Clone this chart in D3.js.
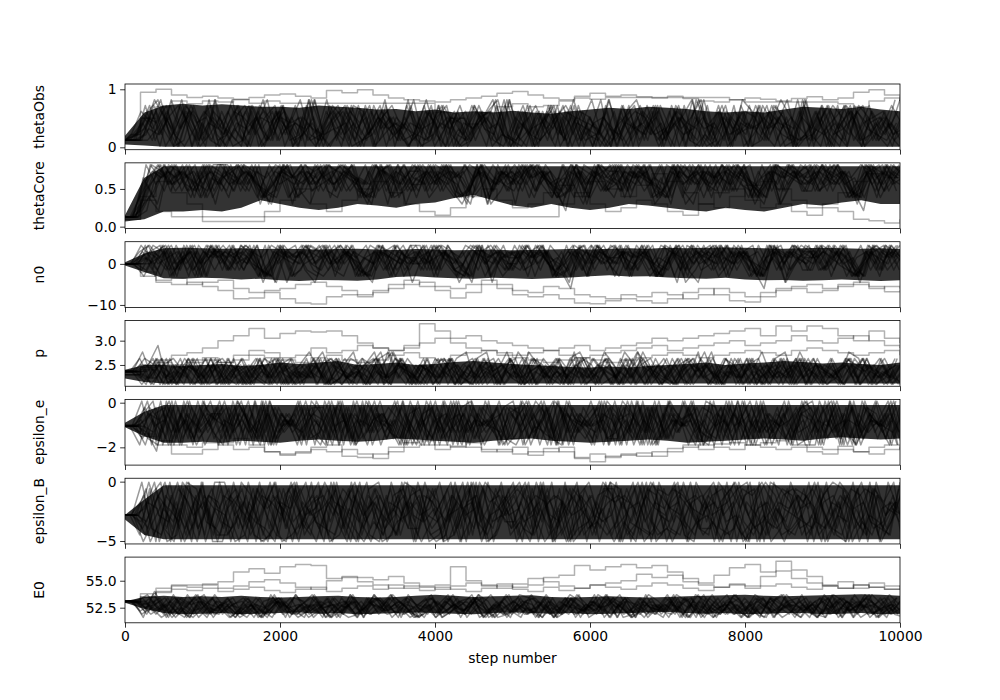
<!DOCTYPE html>
<html><head><meta charset="utf-8">
<script src="https://cdn.jsdelivr.net/npm/d3@7"></script>
<style>body{margin:0;background:#fff}svg{display:block}</style>
</head><body>
<svg id="chart" width="1000" height="700"></svg>
<script>
// ---------------- DATA ----------------
const paramNames = ["thetaObs","thetaCore","n0","p","epsilon_e","epsilon_B","E0"];
const stepTicks = [0,2000,4000,6000,8000,10000];
const stepTickLabels = ["0","2000","4000","6000","8000","10000"];

// y-axis ticks per parameter
const ticksThetaObs = [0,1],        labelsThetaObs = ["0","1"];
const ticksThetaCore = [0,0.5],     labelsThetaCore = ["0.0","0.5"];
const ticksN0 = [-10,0],            labelsN0 = ["\u221210","0"];
const ticksP = [2.5,3.0],           labelsP = ["2.5","3.0"];
const ticksEpsE = [-2,0],           labelsEpsE = ["\u22122","0"];
const ticksEpsB = [-5,0],           labelsEpsB = ["\u22125","0"];
const ticksE0 = [52.5,55.0],        labelsE0 = ["52.5","55.0"];

// y limits per parameter (axis view limits)
const limThetaObs = [-0.041,1.091];
const limThetaCore = [-0.025,0.846];
const limN0 = [-10.6,5.4];
const limP = [2.062,3.414];
const limEpsE = [-2.796,0.148];
const limEpsB = [-5.25,0.287];
const limE0 = [51.1,57.19];

// dense core of the walker ensemble (lower / upper edge), every 250 steps (0..10000)
const coreLowThetaObs  = [0.05,0.03,0.01,0.01,0.01,0.01,0.01,0.01,0.01,0.01,0.01,0.01,0.01,0.01,0.01,0.01,0.01,0.01,0.01,0.01,0.01,0.01,0.01,0.01,0.01,0.01,0.01,0.01,0.01,0.01,0.01,0.01,0.01,0.01,0.01,0.01,0.01,0.01,0.01,0.01,0.01];
const coreHighThetaObs = [0.2,0.6,0.72,0.75,0.72,0.74,0.72,0.7,0.7,0.68,0.72,0.7,0.68,0.65,0.66,0.62,0.65,0.6,0.62,0.6,0.63,0.6,0.58,0.62,0.65,0.68,0.66,0.7,0.68,0.66,0.62,0.6,0.62,0.6,0.65,0.7,0.68,0.66,0.7,0.65,0.62];
const coreLowThetaCore  = [0.07,0.1,0.2,0.2,0.22,0.2,0.25,0.35,0.3,0.25,0.22,0.25,0.3,0.28,0.25,0.3,0.32,0.38,0.42,0.35,0.28,0.25,0.3,0.25,0.22,0.25,0.3,0.28,0.25,0.22,0.2,0.25,0.22,0.2,0.25,0.3,0.28,0.32,0.35,0.3,0.3];
const coreHighThetaCore = [0.15,0.65,0.8,0.8,0.8,0.8,0.8,0.8,0.8,0.8,0.8,0.8,0.8,0.8,0.8,0.8,0.8,0.8,0.8,0.8,0.8,0.8,0.8,0.8,0.8,0.8,0.8,0.8,0.8,0.8,0.8,0.8,0.8,0.8,0.8,0.8,0.8,0.8,0.8,0.8,0.8];
const coreLowN0  = [-0.4,-2,-3.5,-3.6,-3.4,-3.5,-3.8,-3.6,-4,-4.2,-3.9,-4,-4.1,-3.8,-3.2,-3,-3.3,-3.5,-3.6,-3.4,-3.5,-3.7,-3.5,-3.3,-3,-2.8,-3.1,-3,-3.3,-3.5,-3.6,-3.4,-3.8,-4,-3.9,-4.1,-4,-3.8,-4,-4.2,-4];
const coreHighN0 = [0.4,2.5,3.8,3.9,3.8,3.7,3.8,3.6,3.7,3.6,3.5,3.6,3.7,3.5,3.4,3.6,3.5,3.3,3.4,3.5,3.3,3.4,3.5,3.6,3.5,3.7,3.8,3.7,3.9,3.8,3.9,4,3.9,3.8,3.7,3.8,3.9,3.8,3.7,3.8,3.6];
const coreLowP  = [2.22,2.15,2.12,2.12,2.12,2.12,2.12,2.12,2.12,2.12,2.12,2.12,2.12,2.12,2.12,2.12,2.12,2.12,2.12,2.12,2.12,2.12,2.12,2.12,2.12,2.12,2.12,2.12,2.12,2.12,2.12,2.12,2.12,2.12,2.12,2.12,2.12,2.12,2.12,2.12,2.12];
const coreHighP = [2.4,2.5,2.5,2.48,2.5,2.52,2.48,2.5,2.55,2.52,2.55,2.58,2.5,2.52,2.55,2.5,2.52,2.56,2.58,2.55,2.52,2.5,2.48,2.46,2.45,2.47,2.45,2.48,2.5,2.52,2.55,2.5,2.53,2.55,2.58,2.56,2.53,2.55,2.52,2.5,2.55];
const coreLowEpsE  = [-1.1,-1.5,-1.8,-1.8,-1.75,-1.8,-1.7,-1.75,-1.8,-1.7,-1.65,-1.7,-1.75,-1.7,-1.6,-1.65,-1.7,-1.75,-1.8,-1.7,-1.65,-1.6,-1.7,-1.75,-1.8,-1.75,-1.7,-1.65,-1.7,-1.8,-1.75,-1.7,-1.65,-1.6,-1.65,-1.7,-1.6,-1.55,-1.6,-1.65,-1.6];
const coreHighEpsE = [-0.9,-0.4,-0.1,-0.1,-0.1,-0.1,-0.1,-0.1,-0.1,-0.1,-0.1,-0.1,-0.1,-0.1,-0.1,-0.1,-0.1,-0.1,-0.1,-0.1,-0.1,-0.1,-0.1,-0.1,-0.1,-0.1,-0.1,-0.1,-0.1,-0.1,-0.1,-0.1,-0.1,-0.1,-0.1,-0.1,-0.1,-0.1,-0.1,-0.1,-0.1];
const coreLowEpsB  = [-3.2,-4.5,-4.85,-4.85,-4.85,-4.85,-4.85,-4.85,-4.85,-4.85,-4.85,-4.85,-4.85,-4.85,-4.85,-4.85,-4.85,-4.85,-4.85,-4.85,-4.85,-4.85,-4.85,-4.85,-4.85,-4.85,-4.85,-4.85,-4.85,-4.85,-4.85,-4.85,-4.85,-4.85,-4.85,-4.85,-4.85,-4.85,-4.85,-4.85,-4.85];
const coreHighEpsB = [-2.8,-1.5,-0.3,-0.3,-0.3,-0.3,-0.3,-0.3,-0.3,-0.3,-0.3,-0.3,-0.3,-0.3,-0.3,-0.3,-0.3,-0.3,-0.3,-0.3,-0.3,-0.3,-0.3,-0.3,-0.3,-0.3,-0.3,-0.3,-0.3,-0.3,-0.3,-0.3,-0.3,-0.3,-0.3,-0.3,-0.3,-0.3,-0.3,-0.3,-0.3];
const coreLowE0  = [52.95,52.4,52.0,51.9,51.95,52.0,51.9,51.95,52.0,52.05,51.95,52.0,51.9,51.95,52.0,52.05,52.0,51.95,51.9,52.0,52.05,52.0,51.95,52.0,51.9,51.95,52.0,52.05,52.1,52.0,51.95,52.0,51.9,51.95,52.0,52.0,51.9,51.95,52.0,51.9,51.95];
const coreHighE0 = [53.1,53.5,53.6,53.5,53.55,53.5,53.6,53.5,53.45,53.5,53.55,53.6,53.5,53.45,53.5,53.6,53.7,53.6,53.5,53.55,53.6,53.65,53.5,53.45,53.5,53.55,53.5,53.45,53.5,53.55,53.6,53.65,53.7,53.6,53.55,53.6,53.65,53.7,53.75,53.7,53.6];

// walker traces, quantised to 10 levels (digit d -> lo + d*(hi-lo)/9),
// one sample per ~127 steps
const levelsThetaObs = [0.02,0.92];
const walkersThetaObs = [
"1137250614 3620481527 0634172805 2716043582 1604725138 0527316048 2715063481 2603751428",
"1225073618 0472615304 2816350724 1503627410 3726150482 0614273510 4623071528 1372064153",
"1264817302 5147036251 3027416053 2640517328 0415372604 1736240517 3052716430 2517063214",
"1116283741 0362751408 1573024617 3820461537 2604718305 3142607358 1604372516 0473615203",
"1241638057 2730546128 0461725340 2157036481 5302617045 2706413582 0517346021 3604275136",
"1153726041 6207315482 1740625318 0635214072 1473065241 6034725180 3726014853 1520637142",
"1127304615 3816027451 2036471520 4172603518 2063574120 3571604235 1408627351 2063714520",
"1238501726 4017362518 3625047130 5270314682 0726315407 1465230718 2536074215 3704612538",
"1171520364 2653817024 1407263514 3615027340 6251704326 0432716053 4170253608 2731506241",
"1126037518 0314627053 2750136427 0143725618 3507261430 2683517402 0264317506 1475206374",
"1254716308 2573046125 0463125736 2705416308 1362507214 0527136084 3716520437 0623571405",
"1113627450 3162570438 2317605241 3472015630 2713640528 3051726430 1642735018 3207145623",
"1268305172 0435162708 1624073512 0635274160 4217036528 1704625317 0523617402 6241703526",
"1132574061 2705163420 3571602438 1274536021 0346271503 2614037251 6024371508 1357402613"
];
const levelsThetaCore = [0.04,0.82];
const walkersThetaCore = [
"1147968579 6897485968 7958694879 5869784697 8596479685 7948695879 6859748697 5987468597",
"1139786958 7496857948 6985749687 9586497858 6978495869 7586948795 8697485968 7859649786",
"1126958749 8675938467 9548769583 7698548976 5897639487 6958473986 9487658397 8569738495",
"1159867485 9768596748 5987637958 4869795867 9748596378 9587694869 5768947598 6879458697",
"1168795847 6958379486 8697548395 7869458769 3958674985 7698459678 4986579368 9576849587",
"1174869578 5897468953 7968485796 9587639478 6859748596 4879658497 6958478369 8597468958",
"1135978694 7869538796 9485768947 5976849385 8697529687 9485769538 7968495876 9687549879",
"1148597869 9587468795 6798549768 8469758396 7958469875 6879359684 8597648795 5968798476",
"1157968495 8697549386 7859468957 9678458769 5896479385 9768547968 7859469587 6978549698",
"1196857948 7598469785 8679539486 6958798475 9786458697 8597648359 6879538796 7958496879",
"1128796583 9687459768 5897698475 7869539687 8496758497 6978498586 9587369785 8697458967",
"1163879596 8759487698 9687548769 8597469358 7968587495 9587469786 5897649587 9768529687",
"1179685847 5968798459 7689458697 9785369587 6978458698 8697549768 7958469879 5896748597",
"1142987659 9786548796 8597698457 6958749586 9786598479 5879648695 8697549876 7968498579"
];
const levelsN0 = [-9,4.5];
const walkersN0 = [
"6689758497 8576948379 6859478695 7948569874 6978584796 9857468957 8469785947 6857948698",
"6678946857 9587469785 4968795847 8697548769 5879468597 6958749586 7948596879 5968478596",
"6697485968 7958496879 5869748597 9678548697 8569479586 7849698578 9587469857 8796548979",
"6658796849 6879548769 8597469857 7958698475 9687548968 5879648795 6978549687 9568749857",
"6685947869 7598469587 9678548796 8596479685 7948569879 6857948697 5968749586 8697548769",
"6669857948 8697549768 7958469587 6849758697 8597468958 9768547968 7859468957 5976849587",
"6647968579 5968798459 8697549876 7859649786 6978458698 4879658497 9687549879 8569738495",
"6676849587 9786548796 5897698475 8697485968 7968495876 9587694869 5768947598 7948695879",
"6694857968 6958379486 7869458769 9587369785 8496758497 6978498586 8597648795 5987468597",
"6658967485 8759487698 9687548769 5897649587 7968587495 8597469358 9768529687 6879458697",
"6687596849 7598469785 4679539486 6958798475 9786458697 7859469587 6978549698 8596749587",
"6675849697 8675938467 9548769583 7698548976 5897639487 6958473986 9487658397 7859649786",
"6696785849 5897468953 7968485796 9587639478 6859748596 4879658497 6958478369 8597468958",
"6667958498 7869538796 9485768947 5976849385 8697529687 9485769538 7968495876 9687549879"
];
const levelsP = [2.1,3.3];
const walkersP = [
"2241302413 2031420314 0241302143 1034210423 1402314023 0413201342 0314023140 2301432014",
"2213041320 1402314021 3041203142 0314021340 2143021430 1203410231 4021340213 0412304123",
"2230214031 4023104213 0421034120 3142031402 3014203142 0314023104 2130412031 4102314023",
"2202413204 1320413021 4031204132 0413024130 2041320413 2041302413 0214031204 1320413204",
"2251402314 0231402135 2041320514 2031450213 4021305142 0315204132 5041320415 2031540213",
"2224031402 3140213402 1430214032 1402314502 1403124015 3024130241 3021403124 0312403120",
"2210342013 4203140231 4013204513 0240314025 1302413204 1530241302 4130251403 2140302413",
"2243120413 0241302413 2014302140 3214031402 3140213402 1403210341 2031402314 0213402130",
"2232014203 1402314021 3402135041 3204130241 5302413024 1320413025 1430214031 2041320413",
"2204132041 3120430213 5102431042 0314203124 0531204132 1402310423 1042031402 4130241302",
"2211403214 0231042304 1320413520 3142013204 2031402134 0253140231 0423104231 4023140213",
"2224103240 1302413024 0135031240 2314021304 1230421304 2150314023 1402314504 1320241302",
"2236021403 1024130231 4021340521 3024102314 0231045213 0241320413 0214023140 3210423014",
"2213204130 4201342013 0241350231 4021340231 0421304123 0413024150 2314031240 3214032410"
];
const levelsEpsE = [-2.45,0.07];
const walkersEpsE = [
"5528694735 8296473582 9637248593 7264938572 4968327594 8362759483 2759364827 9463825937",
"5547382946 2859374628 3748296537 4829573648 9274386529 3748259674 8392647582 3659428739",
"5563927485 9374628593 6285947362 8593746258 3746928537 6294837562 9485736294 5837264958",
"5592847369 4728395746 8394627385 2967483952 6839472856 4972836594 3826947583 7294658372",
"5536492857 7385294637 5928374692 6385927463 8254973682 7539248673 6847293568 2958374692",
"5579283647 3694827593 4827395864 9372846583 2597384629 5826473958 7293846527 6482937584",
"5554738296 8463927584 2693847526 3847295638 6948275364 9372846592 4739582637 8263947528",
"5585629374 2947385629 7382659437 8263947582 4738296547 2864937582 9375264839 4793826574",
"5527846393 6582937468 3947582639 5728463927 8362947583 4637285946 2856394728 9372846593",
"5568394725 9473826547 6293847528 4936728593 3958274639 7294836527 5629483746 3847295628",
"5541937586 5839274638 8473926584 2849375628 7384926573 3958274639 8473625938 6295837462",
"5593746258 3729485736 4829367492 6374892547 5827394682 8492736584 3948275369 7482936547",
"5532859476 8274936582 9562847393 7835294673 9263847592 6738294853 7582946372 2947386594",
"5576283947 4963827594 2837594628 5392748637 4692837568 2584937264 6394827583 8356294738"
];
const levelsEpsB = [-5.05,-0.05];
const walkersEpsB = [
"4418053927 6140857293 0581736249 8350169427 5083914726 9061843752 1972056384 7391052846",
"4460392817 5829306415 7293048516 3947152806 9218064573 4805972163 6039481527 0582731946",
"4437905182 9406371852 4830592716 0582937164 7349028615 1638075492 8214093657 5904381726",
"4492170583 1753928406 9162857034 6201845973 3815760249 7049316852 2685907413 9136280754",
"4425816093 8061493725 2648075319 1753609284 6940257138 8592140367 4507319862 3726048195",
"4403629758 3297016584 6015389472 9438267015 2576091843 0316928754 7841360295 6259704318",
"4471538290 0582764931 8374910652 2860493157 0395186427 6750283941 3058796124 1847529063",
"4459207461 7625840139 1940627385 7014582936 8627403519 2483659107 9460235871 4065873219",
"4416940375 2938175064 5729304816 4593716028 1748259063 9207548316 0593142786 8521694037",
"4480752619 9461028357 3058162947 8125039674 5906748231 3849021675 6127809543 2798031564",
"4438261705 4017593826 7486250193 0369281457 9461502378 5138704296 1795263048 0673918254",
"4465019832 6853207914 0927461538 5247093681 3052817946 7694125083 8340697215 9418562370",
"4427594061 1370692845 9652031784 3817560492 6294381705 0562879134 2906415387 5037248691",
"4494386250 5728410693 2169483570 7605918342 4183607529 8321956047 5689032471 3250687149"
];
const levelsE0 = [51.6,54.3];
const walkersE0 = [
"5536241503 2614305213 4025136241 3051426031 2540316243 0521436205 1342063152 4031526413",
"5524613052 1436025314 2603514236 0415326041 5320614253 1406325041 6352041356 2041536024",
"5541352064 3025146302 5143062514 3602415306 2415036241 5302614305 2146035241 3062514306",
"5513026451 4302615340 2614053126 4305216403 5126043152 6403521460 3152406315 2460351246",
"5562403152 4031256041 3520146253 0416352041 2563041253 6014325061 4230516243 0615243061",
"5507415236 2514073612 4035261407 3152604137 2504163270 4135206143 7250316420 5136247031",
"5545172036 1452036142 5307412635 0247136250 4127360425 1630427153 0264135720 4613250374",
"5528364150 4613205146 3027146352 0416327501 4236051427 3605142637 0512463027 1536402615",
"5534620571 2463051247 3062514730 2641537024 6153027416 3507241630 5274160352 4170635241",
"5551403627 3140562134 0625143706 2413560247 1305264137 0542163075 2416305724 1630527413",
"5516053742 5034172650 3417265031 4726053142 7605314275 0631427506 3142750613 4275061342",
"5573260415 2064315207 3416052741 3602514730 6241537026 4150372614 0572631405 2736041526",
"5542617305 4126350742 1635074213 5602471352 0641375260 4137526031 4725106342 5061734250",
"5525064713 6204153726 0451372640 1537246051 3724160534 7261405372 6140532746 1053274610"
];

// isolated (grey-looking) walkers, values every 200 steps (0..10000)
const strayThetaObs = [
[0.12,0.95,1.0,0.9,0.86,0.88,0.85,0.83,0.86,0.9,0.92,0.88,0.85,0.98,0.94,0.99,0.9,0.85,0.82,0.8,0.78,0.82,0.85,0.88,0.93,0.96,0.9,0.85,0.82,0.88,0.93,0.88,0.9,0.87,0.85,0.88,0.84,0.8,0.78,0.82,0.85,0.83,0.8,0.84,0.87,0.82,0.85,0.95,0.99,0.9,0.8],
[0.12,0.5,0.7,0.8,0.75,0.8,0.78,0.82,0.76,0.8,0.76,0.76,0.76,0.76,0.76,0.76,0.76,0.76,0.76,0.76,0.6,0.5,0.4,0.6,0.7,0.75,0.7,0.72,0.8,0.85,0.83,0.86,0.86,0.86,0.86,0.86,0.86,0.86,0.86,0.82,0.78,0.78,0.78,0.78,0.78,0.78,0.75,0.7,0.8,0.85,0.8]
];
const strayThetaCore = [
[0.1,0.35,0.2,0.13,0.13,0.13,0.13,0.13,0.13,0.13,0.13,0.13,0.13,0.13,0.13,0.13,0.13,0.13,0.13,0.13,0.13,0.13,0.13,0.13,0.13,0.13,0.13,0.13,0.3,0.45,0.6,0.5,0.4,0.55,0.7,0.6,0.45,0.3,0.25,0.4,0.55,0.6,0.5,0.35,0.25,0.3,0.45,0.6,0.7,0.65,0.6],
[0.1,0.4,0.6,0.45,0.3,0.07,0.07,0.07,0.07,0.2,0.35,0.5,0.3,0.2,0.35,0.5,0.6,0.45,0.3,0.2,0.15,0.25,0.4,0.5,0.35,0.25,0.3,0.45,0.55,0.4,0.3,0.2,0.25,0.35,0.3,0.2,0.15,0.3,0.45,0.5,0.35,0.25,0.3,0.2,0.15,0.25,0.2,0.1,0.08,0.05,0.1]
];
const strayN0 = [
[0,-2,-4.5,-5,-4.5,-5.5,-6.5,-8.5,-8.3,-7,-8.5,-9.5,-9.8,-8,-7.5,-8,-7,-5,-4,-5.5,-6.5,-8.3,-7,-5,-6,-7.5,-8,-7.5,-8.5,-9.5,-9.7,-9,-8.5,-9,-9.5,-8.5,-7,-6,-7.5,-9,-9.3,-8,-6,-5.5,-5,-6,-5,-4.5,-5.5,-6.8,-6.5],
[0,-3,-4,-3.5,-5,-4.5,-4,-6,-7,-6.5,-6,-5,-4.5,-5.5,-6.5,-7.5,-6.5,-6,-5,-4.5,-5.5,-6,-5,-4,-5,-6.5,-7,-5.5,-6,-7.5,-8,-8.5,-7.5,-8,-7,-7.5,-8.5,-7.5,-6,-7,-8,-7,-6.5,-6,-7,-6.5,-5.5,-5,-6,-5.5,-6]
];
const strayP = [
[2.3,2.5,2.6,2.7,2.75,2.85,3.0,3.1,3.25,3.05,3.15,3.2,3.18,3.2,3.1,2.95,2.85,2.8,2.9,3.35,3.2,3.05,3.1,3.0,2.95,2.9,2.85,2.8,2.85,2.9,2.8,2.85,2.9,2.95,3.05,3.0,3.05,3.1,3.15,3.2,3.25,3.1,3.3,3.2,3.3,3.25,3.1,3.0,3.2,3.05,2.95],
[2.3,2.4,2.5,2.45,2.55,2.6,2.55,2.7,2.8,2.75,2.65,2.7,2.85,2.75,2.8,2.9,2.85,2.8,2.85,2.95,3.05,2.95,2.85,2.8,2.75,2.7,2.75,2.8,2.7,2.65,2.7,2.75,2.8,2.85,2.9,2.8,2.85,2.9,2.95,3.0,2.9,2.95,3.0,3.1,3.0,2.95,3.05,3.1,3.0,2.9,2.85],
[2.3,2.45,2.55,2.5,2.6,2.65,2.55,2.6,2.7,2.65,2.6,2.55,2.65,2.7,2.6,2.55,2.6,2.7,2.75,2.65,2.6,2.7,2.75,2.8,2.7,2.65,2.6,2.55,2.6,2.65,2.6,2.55,2.6,2.65,2.7,2.75,2.7,2.65,2.7,2.75,2.8,2.75,2.7,2.8,2.85,2.8,2.75,2.7,2.75,2.8,2.7]
];
const strayEpsE = [
[-1.0,-1.5,-1.9,-2.3,-2.3,-2.1,-1.8,-1.6,-1.9,-2.2,-2.3,-2.2,-2.0,-1.9,-2.4,-2.45,-2.3,-2.0,-1.8,-1.7,-1.9,-2.0,-1.8,-2.1,-2.2,-2.0,-2.35,-2.2,-2.0,-2.5,-2.65,-2.4,-2.35,-2.25,-2.4,-2.2,-2.0,-1.9,-2.0,-2.1,-1.9,-1.8,-1.7,-1.9,-2.0,-2.1,-1.95,-2.2,-2.3,-2.1,-2.0],
[-1.0,-1.4,-1.7,-1.9,-2.0,-1.8,-1.9,-2.1,-2.0,-2.2,-2.35,-2.25,-2.1,-2.2,-2.1,-2.3,-2.5,-2.2,-2.0,-1.9,-2.1,-1.95,-2.0,-2.2,-2.1,-2.3,-2.2,-2.05,-2.2,-2.45,-2.3,-2.45,-2.3,-2.4,-2.2,-2.05,-1.9,-2.1,-1.85,-1.8,-1.9,-2.0,-2.1,-2.0,-2.2,-2.3,-2.1,-2.2,-2.0,-1.9,-2.1]
];
const strayEpsB = [];
const strayE0 = [
[53.0,53.5,54.0,54.6,54.6,54.7,54.9,55.8,56.1,55.7,56.3,56.5,56.4,55.2,55.4,55.3,55.1,55.4,54.8,54.5,54.6,56.3,55.0,54.5,54.7,54.4,54.6,55.3,55.5,56.4,56.0,56.3,56.5,56.2,56.4,55.8,55.2,54.8,55.5,56.2,56.5,55.8,56.8,56.0,55.4,54.6,54.9,54.3,54.8,54.5,54.6],
[53.0,53.8,54.3,54.5,54.4,54.6,54.3,54.5,54.9,55.1,54.8,54.4,54.2,55.0,55.3,54.9,54.6,54.3,54.5,54.4,54.2,54.5,54.8,54.6,54.3,54.7,55.2,54.9,54.5,54.3,54.6,54.8,55.0,55.6,55.3,55.5,54.9,54.6,54.4,54.7,54.5,55.4,55.9,55.2,54.8,54.5,54.3,54.6,54.4,54.2,54.3],
[53.0,53.5,53.9,54.2,54.1,54.3,54.0,54.2,54.4,54.1,53.9,54.2,54.4,54.0,54.3,54.5,54.2,54.6,54.3,54.1,54.4,54.2,54.0,54.3,54.5,54.2,54.0,54.4,54.1,54.3,54.6,54.4,54.2,54.5,54.8,54.6,54.3,54.1,54.4,54.6,54.3,54.5,54.7,54.4,54.2,54.5,54.3,54.6,54.4,54.2,54.5]
];

// ---------------- BUILD PANELS ----------------
const panels = [
  {name:paramNames[0], lim:limThetaObs, ticks:ticksThetaObs, labels:labelsThetaObs, lo:coreLowThetaObs, hi:coreHighThetaObs, lv:levelsThetaObs, walkers:walkersThetaObs, stray:strayThetaObs},
  {name:paramNames[1], lim:limThetaCore, ticks:ticksThetaCore, labels:labelsThetaCore, lo:coreLowThetaCore, hi:coreHighThetaCore, lv:levelsThetaCore, walkers:walkersThetaCore, stray:strayThetaCore},
  {name:paramNames[2], lim:limN0, ticks:ticksN0, labels:labelsN0, lo:coreLowN0, hi:coreHighN0, lv:levelsN0, walkers:walkersN0, stray:strayN0},
  {name:paramNames[3], lim:limP, ticks:ticksP, labels:labelsP, lo:coreLowP, hi:coreHighP, lv:levelsP, walkers:walkersP, stray:strayP},
  {name:paramNames[4], lim:limEpsE, ticks:ticksEpsE, labels:labelsEpsE, lo:coreLowEpsE, hi:coreHighEpsE, lv:levelsEpsE, walkers:walkersEpsE, stray:strayEpsE},
  {name:paramNames[5], lim:limEpsB, ticks:ticksEpsB, labels:labelsEpsB, lo:coreLowEpsB, hi:coreHighEpsB, lv:levelsEpsB, walkers:walkersEpsB, stray:strayEpsB},
  {name:paramNames[6], lim:limE0, ticks:ticksE0, labels:labelsE0, lo:coreLowE0, hi:coreHighE0, lv:levelsE0, walkers:walkersE0, stray:strayE0}
];

// walker j of m is sampled on a grid shifted by j/m of a sample interval (start shared)
function decode(str, lv, j, m){
  const ds = str.replace(/\s+/g,"").split("").map(Number);
  const n = ds.length, dt = 10000/(n-1);
  return ds.map((d,i)=>[i===0 ? 0 : (i + j/m - 0.5)*dt, lv[0] + d*(lv[1]-lv[0])/9]);
}
function seriesPts(arr){
  const n = arr.length;
  return arr.map((v,i)=>[i*10000/(n-1), v]);
}

// ---------------- LAYOUT ----------------
const svg = d3.select("#chart");
const L = 125, R = 900, T = 84, B = 622.8;
const nP = panels.length, hspace = 0.2;
const ph = (B - T) / (nP + (nP - 1) * hspace);
const gap = ph * hspace;
const FONT = "'DejaVu Sans', sans-serif";
const FS = 13.9;
const TICK = 4.86;

const x = d3.scaleLinear().domain([0,10000]).range([L,R]);

panels.forEach((p,k)=>{
  const top = T + k*(ph+gap), bot = top + ph;
  const y = d3.scaleLinear().domain(p.lim).range([bot, top]);
  const g = svg.append("g");
  const cid = "clip"+k;
  svg.append("clipPath").attr("id",cid).append("rect")
    .attr("x",L).attr("y",top).attr("width",R-L).attr("height",ph);
  const line = d3.line().x(d=>x(d[0])).y(d=>y(d[1]));
  const stepLine = d3.line().x(d=>x(d[0])).y(d=>y(d[1])).curve(d3.curveStepAfter);
  const lg = g.append("g").attr("clip-path",`url(#${cid})`);

  // dense core of the ensemble
  const n = p.lo.length;
  const core = p.lo.map((v,i)=>({s:i*10000/(n-1), lo:v, hi:p.hi[i]}));
  lg.append("path")
    .attr("d", d3.area().x(d=>x(d.s)).y0(d=>y(d.lo)).y1(d=>y(d.hi))(core))
    .attr("fill","#000").attr("fill-opacity",0.8);

  p.stray.forEach(s=>{
    lg.append("path").attr("d", stepLine(seriesPts(s)))
      .attr("fill","none").attr("stroke","#000").attr("stroke-opacity",0.3)
      .attr("stroke-width",1.5).attr("stroke-linejoin","round");
  });
  const m = p.walkers.length;
  p.walkers.forEach((w,j)=>{
    lg.append("path").attr("d", line(decode(w,p.lv,j,m)))
      .attr("fill","none").attr("stroke","#000").attr("stroke-opacity",0.4)
      .attr("stroke-width",1.5).attr("stroke-linejoin","round");
  });

  // y axis
  const ya = g.append("g").attr("transform",`translate(${L},0)`)
    .call(d3.axisLeft(y).tickValues(p.ticks).tickFormat((d,i)=>p.labels[i]).tickSize(TICK).tickPadding(3.5));
  ya.select(".domain").remove();
  ya.selectAll("line").attr("stroke","#000").attr("stroke-width",0.8);
  ya.selectAll("text").attr("font-family",FONT).attr("font-size",FS).attr("fill","#000");

  // x axis
  const last = k === nP-1;
  const xa = g.append("g").attr("transform",`translate(0,${bot})`)
    .call(d3.axisBottom(x).tickValues(stepTicks)
      .tickFormat((d,i)=> last ? stepTickLabels[i] : "").tickSize(TICK).tickPadding(3.5));
  xa.select(".domain").remove();
  xa.selectAll("line").attr("stroke","#000").attr("stroke-width",0.8);
  xa.selectAll("text").attr("font-family",FONT).attr("font-size",FS).attr("fill","#000");

  // frame
  g.append("rect").attr("x",L).attr("y",top).attr("width",R-L).attr("height",ph)
    .attr("fill","none").attr("stroke","#000").attr("stroke-width",0.8);

  // y label
  g.append("text").attr("transform",`translate(44,${(top+bot)/2}) rotate(-90)`)
    .attr("text-anchor","middle").attr("font-family",FONT).attr("font-size",FS)
    .attr("fill","#000").text(p.name);
});

svg.append("text").attr("x",(L+R)/2).attr("y",663).attr("text-anchor","middle")
  .attr("font-family",FONT).attr("font-size",FS).attr("fill","#000").text("step number");
</script>
</body></html>
